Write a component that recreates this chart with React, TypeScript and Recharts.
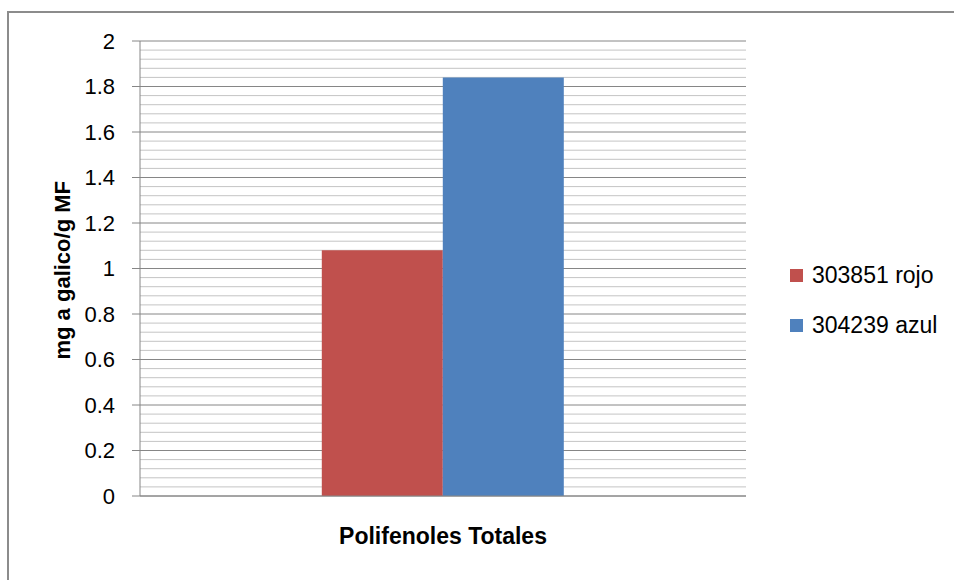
import React from "react";
import { BarChart, Bar, XAxis, YAxis, CartesianGrid } from "recharts";

const categories = ["Polifenoles Totales"];
const rojo = [1.08];
const azul = [1.84];
const yTicks = [0, 0.2, 0.4, 0.6, 0.8, 1, 1.2, 1.4, 1.6, 1.8, 2];
const Y_MAX = 2;

const series = [
  { key: "rojo", name: "303851 rojo", color: "#C0504D" },
  { key: "azul", name: "304239 azul", color: "#4F81BD" },
];

const FONT = "Liberation Sans, Arial, sans-serif";
const FS = 22;

// minor gridlines every 0.04 between the major ticks
const minorValues: number[] = [];
for (let i = 1; i < 50; i++) {
  if (i % 5 !== 0) minorValues.push(+(i * 0.04).toFixed(2));
}

const rows = categories.map((name, i) => ({
  name,
  rojo: rojo[i],
  azul: azul[i],
}));

function minorLines(props: any) {
  const { yAxis, offset } = props;
  if (yAxis && typeof yAxis.scale === "function") {
    return minorValues.map((v) => yAxis.scale(v));
  }
  return minorValues.map((v) => offset.top + offset.height * (1 - v / Y_MAX));
}

function LegendBox() {
  return (
    <div
      style={{
        position: "absolute",
        left: 790,
        top: 250,
        fontFamily: FONT,
        fontSize: 23,
        color: "#000",
      }}
    >
      {series.map((s) => (
        <div
          key={s.key}
          style={{ display: "flex", alignItems: "center", height: 50 }}
        >
          <span
            style={{
              width: 13,
              height: 13,
              background: s.color,
              display: "inline-block",
              marginRight: 9,
            }}
          />
          <span>{s.name}</span>
        </div>
      ))}
    </div>
  );
}

export default function App() {
  return (
    <div
      style={{
        position: "fixed",
        left: 0,
        top: 0,
        width: 954,
        height: 580,
        overflow: "hidden",
        background: "#fff",
      }}
    >
      <div
        style={{
          position: "absolute",
          left: 7,
          top: 11,
          width: 1000,
          height: 700,
          border: "2px solid #8c8c8c",
        }}
      />
      <div style={{ position: "absolute", left: 0, top: 0 }}>
        <BarChart
          width={954}
          height={580}
          data={rows}
          margin={{ top: 41, right: 208, bottom: 0, left: 80 }}
          barCategoryGap="30%"
          barGap={0}
        >
          <CartesianGrid
            vertical={false}
            stroke="#c4c4c4"
            horizontalCoordinatesGenerator={minorLines}
          />
          <CartesianGrid vertical={false} stroke="#868686" />
          <XAxis
            dataKey="name"
            height={84}
            tick={false}
            tickLine={false}
            axisLine={{ stroke: "#868686" }}
            label={{
              value: categories[0],
              position: "insideTop",
              offset: 32,
              style: {
                fontFamily: FONT,
                fontSize: 23,
                fontWeight: "bold",
                fill: "#000",
              },
            }}
          />
          <YAxis
            width={60}
            domain={[0, Y_MAX]}
            ticks={yTicks}
            interval={0}
            tickSize={8}
            tickMargin={17}
            tickLine={{ stroke: "#868686" }}
            axisLine={{ stroke: "#868686" }}
            tick={{ fontFamily: FONT, fontSize: FS, fill: "#000" }}
            label={{
              value: "mg a galico/g MF",
              angle: -90,
              position: "insideLeft",
              offset: -18,
              dy: 91,
              style: {
                fontFamily: FONT,
                fontSize: FS,
                fontWeight: "bold",
                fill: "#000",
              },
            }}
          />
          {series.map((s) => (
            <Bar
              key={s.key}
              dataKey={s.key}
              name={s.name}
              fill={s.color}
              isAnimationActive={false}
            />
          ))}
        </BarChart>
      </div>
      <LegendBox />
    </div>
  );
}
